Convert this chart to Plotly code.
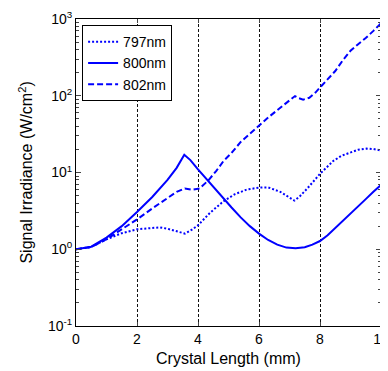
import plotly.graph_objects as go

# ---- data ----
x_800 = [0, 0.5, 1.0, 1.5, 2.0, 2.5, 3.0, 3.3, 3.55, 3.75, 4.0, 4.34, 4.6, 4.83, 5.1, 5.4, 5.7,
         6.0, 6.3, 6.6, 6.9, 7.2, 7.5, 7.75, 8.0, 8.25, 8.5, 8.75, 9.0, 9.25, 9.5, 9.75, 10]
y_800 = [1.0, 1.08, 1.42, 2.0, 3.05, 4.8, 8.0, 11.5, 17, 14.5, 11, 7.7, 5.8, 4.6, 3.5, 2.6, 2.0,
         1.6, 1.32, 1.15, 1.05, 1.03, 1.06, 1.15, 1.28, 1.52, 1.9, 2.35, 2.9, 3.6, 4.5, 5.6, 6.9]

x_802 = [0, 0.5, 1.0, 1.5, 2.0, 2.5, 3.0, 3.3, 3.57, 3.8, 4.05, 4.34, 4.6, 4.83, 5.1, 5.4, 5.7,
         6.0, 6.3, 6.6, 6.9, 7.18, 7.3, 7.45, 7.65, 7.85, 8.0, 8.25, 8.5, 8.75, 9.0, 9.25, 9.5, 9.75, 10]
y_802 = [1.0, 1.07, 1.35, 1.8, 2.45, 3.4, 4.6, 5.6, 6.2, 5.95, 6.2, 7.9, 10.5, 14, 18, 25, 32,
         41, 52, 65, 80, 99, 93, 89, 94, 110, 128, 165, 210, 290, 385, 470, 565, 700, 880]

x_797 = [0, 0.5, 1.0, 1.5, 2.0, 2.5, 2.75, 3.0, 3.3, 3.57, 3.8, 4.0, 4.4, 4.83, 5.2, 5.6, 6.0,
         6.3, 6.7, 7.0, 7.16, 7.34, 7.6, 8.0, 8.44, 8.7, 8.98, 9.25, 9.53, 9.75, 10]
y_797 = [1.0, 1.07, 1.35, 1.62, 1.82, 1.92, 1.93, 1.85, 1.72, 1.6, 1.8, 2.05, 3.0, 4.2, 5.2, 6.0, 6.35,
         6.4, 5.6, 4.7, 4.3, 4.9, 6.3, 9.6, 14.2, 16.5, 18.3, 19.8, 20.5, 20.2, 19.4]

series_names = ["797nm", "800nm", "802nm"]
x_title = "Crystal Length (mm)"
y_title = "Signal Irradiance (W/cm<sup>2</sup>)"
x_ticks = [0, 2, 4, 6, 8, 10]
y_ticks = [0.1, 1, 10, 100, 1000]
y_tick_text = ["10<sup>-1</sup>", "10<sup>0</sup>", "10<sup>1</sup>", "10<sup>2</sup>", "10<sup>3</sup>"]
y_minor = [m * 10 ** e for e in range(-1, 3) for m in range(2, 10)]

BLUE = "#0000FF"
FONT = "Liberation Sans, Arial, sans-serif"

fig = go.Figure()
fig.add_trace(go.Scatter(x=x_797, y=y_797, mode="lines", name=series_names[0],
                         line=dict(color=BLUE, width=2, dash="2px,2px")))
fig.add_trace(go.Scatter(x=x_800, y=y_800, mode="lines", name=series_names[1],
                         line=dict(color=BLUE, width=2)))
fig.add_trace(go.Scatter(x=x_802, y=y_802, mode="lines", name=series_names[2],
                         line=dict(color=BLUE, width=2, dash="6px,3px")))

# the page body has an 8px margin, so the figure is sized 8px smaller
fig.update_layout(
    width=380, height=363,
    margin=dict(l=68, r=7, t=11, b=45, autoexpand=False),
    paper_bgcolor="white", plot_bgcolor="white",
    font=dict(family=FONT, size=14, color="black"),
    showlegend=True,
    legend=dict(x=0.02, y=0.98, xanchor="left", yanchor="top",
                bgcolor="white", bordercolor="black", borderwidth=1,
                font=dict(family=FONT, size=14, color="black"),
                tracegroupgap=0, itemwidth=30),
    xaxis=dict(range=[0, 10], tickvals=x_ticks, ticks="inside", ticklen=4,
               showline=True, linecolor="black", linewidth=1, mirror="ticks",
               showgrid=True, gridcolor="#111", gridwidth=1, griddash="3px,2px",
               zeroline=False, automargin=False, ticklabeloverflow="allow",
               tickfont=dict(size=14)),
    yaxis=dict(type="log", range=[-1, 3], tickvals=y_ticks, ticktext=y_tick_text,
               ticks="inside", ticklen=5,
               minor=dict(tickvals=y_minor, ticks="inside", ticklen=3, showgrid=False),
               showline=True, linecolor="black", linewidth=1, mirror="ticks",
               showgrid=False, zeroline=False, automargin=False,
               tickfont=dict(size=14)),
    annotations=[
        dict(text=x_title, xref="paper", yref="paper", x=0.5, y=-0.107,
             xanchor="center", yanchor="middle", showarrow=False,
             font=dict(family=FONT, size=16, color="black")),
        dict(text=y_title, xref="paper", yref="paper", x=-0.167, y=0.5,
             xanchor="center", yanchor="middle", showarrow=False, textangle=-90,
             font=dict(family=FONT, size=16, color="black")),
    ],
)

fig.write_html("out.html")
